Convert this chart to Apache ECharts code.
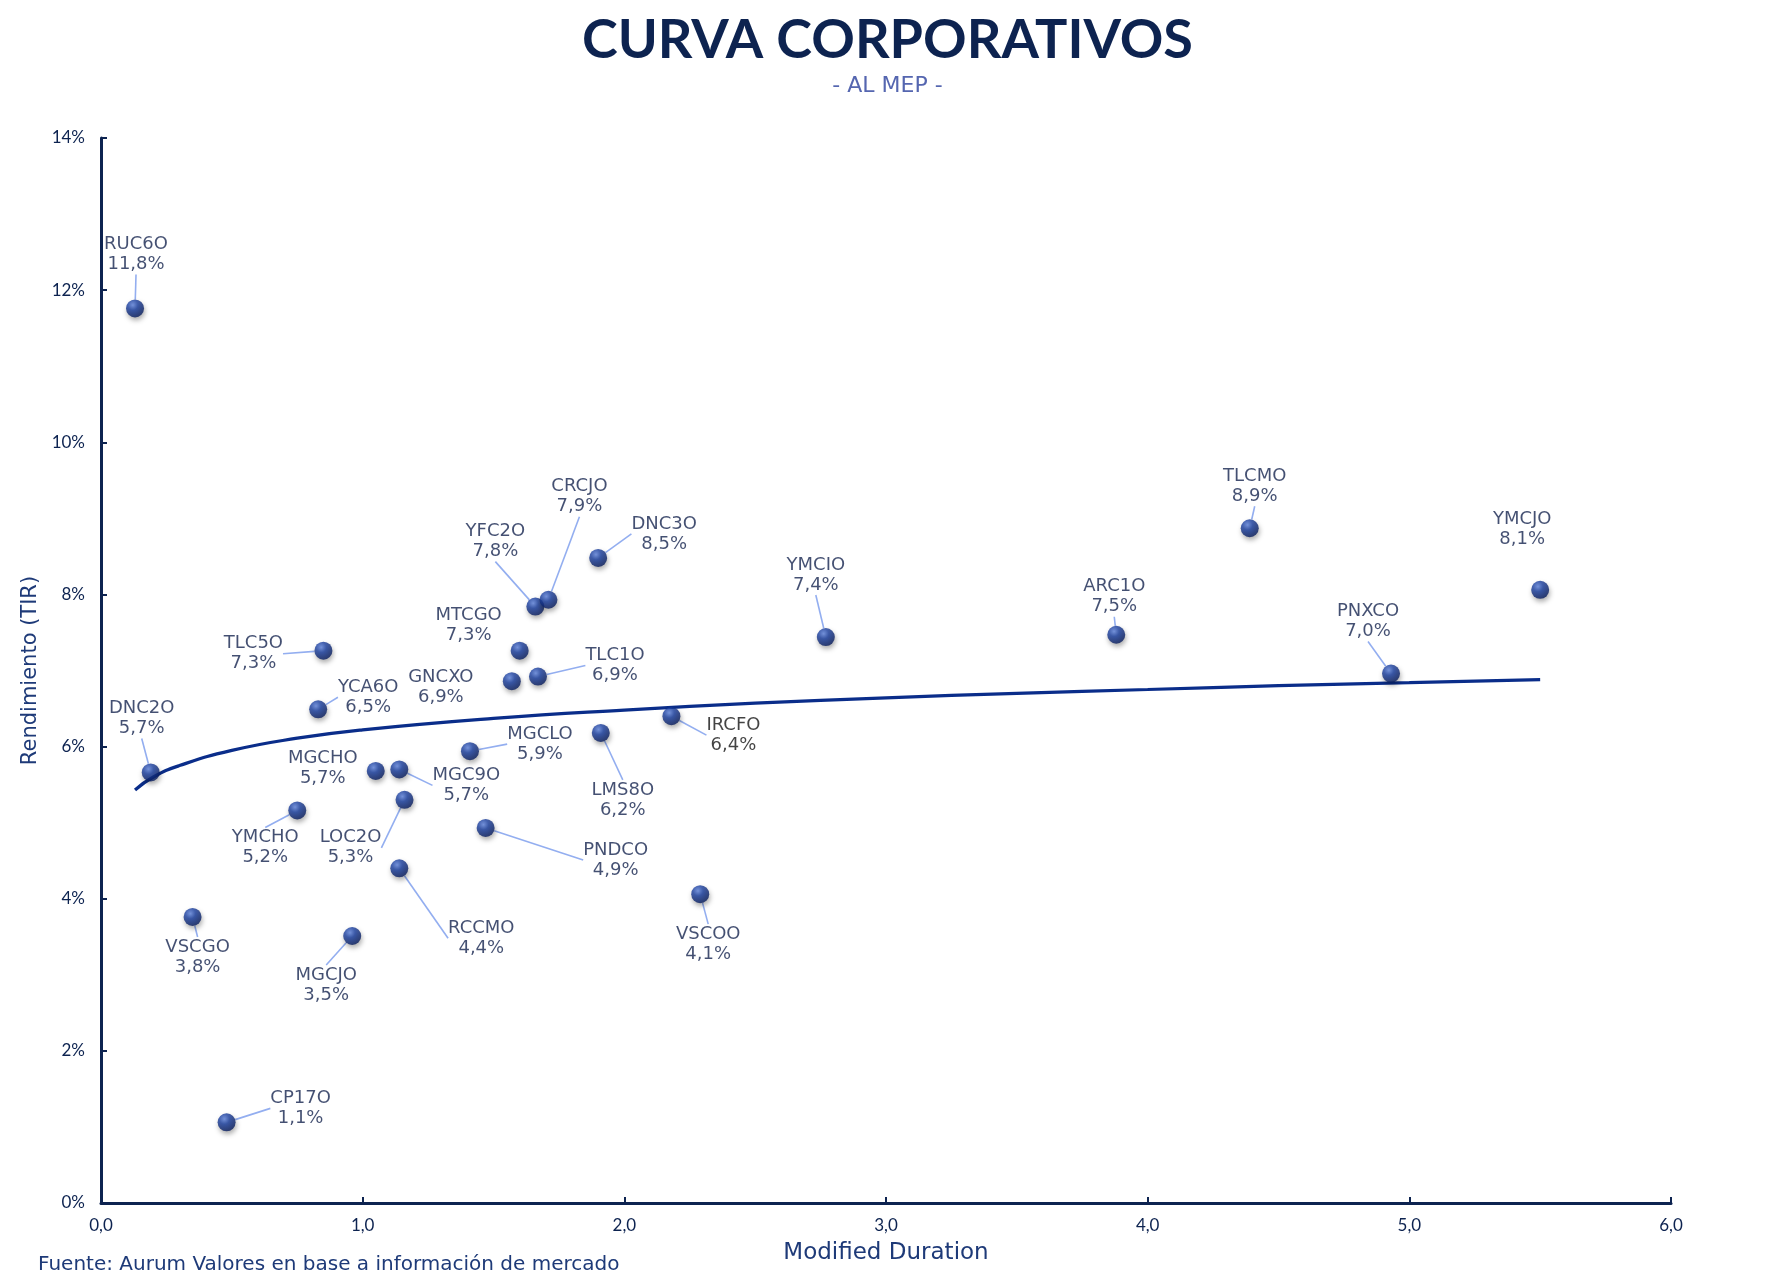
<!DOCTYPE html>
<html>
<head>
<meta charset="utf-8">
<script src="https://cdn.jsdelivr.net/npm/echarts@6/dist/echarts.min.js"></script>
<style>
html,body{margin:0;padding:0;background:#fff;}
#chart{width:1775px;height:1287px;}
</style>
</head>
<body>
<div id="chart"></div>
<script>
// ---- data ----
var bondNames = ['RUC6O','DNC2O','TLC5O','YCA6O','MGCHO','MGC9O','LOC2O','YMCHO','RCCMO','VSCGO','MGCJO','CP17O','MGCLO','PNDCO','GNCXO','MTCGO','TLC1O','YFC2O','CRCJO','DNC3O','LMS8O','IRCFO','VSCOO','YMCIO','ARC1O','TLCMO','PNXCO','YMCJO'];
var duration = [0.13,0.19,0.85,0.83,1.05,1.14,1.16,0.75,1.14,0.35,0.96,0.48,1.41,1.47,1.57,1.60,1.67,1.66,1.71,1.90,1.91,2.18,2.29,2.77,3.88,4.39,4.93,5.50];
var yieldPct = [11.76,5.66,7.26,6.49,5.68,5.70,5.30,5.16,4.40,3.76,3.51,1.06,5.94,4.93,6.86,7.26,6.92,7.84,7.93,8.48,6.18,6.40,4.06,7.44,7.47,8.87,6.96,8.06];
// trend curve
var trendX = [0.13,0.2,0.3,0.5,0.75,1.0,1.5,2.0,2.5,3.0,3.5,4.0,4.5,5.0,5.5];
var trendY = [5.43,5.60,5.75,5.95,6.11,6.22,6.37,6.48,6.57,6.64,6.70,6.75,6.80,6.84,6.88];
var xTicks = [0,1,2,3,4,5,6];
var yTicks = [0,2,4,6,8,10,12,14];

// ---- label layout (pixel offsets of label centre from point, leader mode) ----
var labelOffsets = [[1,-54],[-9,-54],[-70,3],[50,-12],[-53,-3],[67,16],[-54,48],[-32,37],[82,70],[5,40],[-26,49],[74,-14],[70,-7],[130,32],[-71,6],[-51,-25],[77,-11],[-40,-65],[31,-103],[66,-24],[22,67],[62,19],[8,50],[-10,-62],[-2,-38],[5,-42],[-23,-52],[-18,-61]];
var leaderMode = ['v','v','s','s','','s','s','v','s','v','v','s','s','s','','','s','v','v','s','v','s','v','v','v','v','v',''];

var navy = '#0d2350';
var labelFont = 'DejaVu Sans';
var scatterData = bondNames.map(function (n, i) {
  var d = { name: n, value: [duration[i], yieldPct[i]] };
  d.labelLine = { show: leaderMode[i] !== '' };
  if (n === 'IRCFO') d.label = { color: '#141414' };
  return d;
});
var trendData = trendX.map(function (x, i) { return [x, trendY[i]]; });

var chart = echarts.init(document.getElementById('chart'));
var option = {
  backgroundColor: '#ffffff',
  animation: false,
  title: [
    { text: 'CURVA CORPORATIVOS', left: 'center', top: 9,
      textStyle: { fontFamily: 'Lato', fontWeight: 'bold', fontSize: 54, color: navy } },
    { text: '- AL MEP -', left: 'center', top: 70,
      textStyle: { fontFamily: labelFont, fontWeight: 'normal', fontSize: 22, color: '#5566b0' } },
    { text: 'Fuente: Aurum Valores en base a información de mercado', left: 33, top: 1250,
      textStyle: { fontFamily: labelFont, fontWeight: 'normal', fontSize: 20, color: '#1e3a78' } }
  ],
  grid: { left: 101, right: 104, top: 138, bottom: 84 },
  xAxis: {
    type: 'value', min: 0, max: 6, interval: 1,
    name: 'Modified Duration', nameLocation: 'middle', nameGap: 39,
    nameTextStyle: { fontFamily: labelFont, fontSize: 23, color: '#1e3a78' },
    axisLine: { show: true, lineStyle: { color: navy, width: 3 } },
    axisTick: { show: true, inside: true, length: 6, lineStyle: { color: navy, width: 2 } },
    axisLabel: { fontFamily: 'Lato', fontSize: 17, color: navy, margin: 14,
      formatter: function (v) { return xTicks.indexOf(v) >= 0 ? v.toFixed(1).replace('.', ',') : ''; } },
    splitLine: { show: false }
  },
  yAxis: {
    type: 'value', min: 0, max: 14, interval: 2,
    name: 'Rendimiento (TIR)', nameLocation: 'middle', nameGap: 60,
    nameTextStyle: { fontFamily: labelFont, fontSize: 21, color: '#1e3a78' },
    axisLine: { show: true, lineStyle: { color: navy, width: 3 } },
    axisTick: { show: true, inside: true, length: 6, lineStyle: { color: navy, width: 2 } },
    axisLabel: { fontFamily: 'Lato', fontSize: 17, color: navy, margin: 16,
      formatter: function (v) { return yTicks.indexOf(v) >= 0 ? v + '%' : ''; } },
    splitLine: { show: false }
  },
  series: [
    {
      type: 'line', data: trendData, smooth: true, symbol: 'none', z: 2,
      lineStyle: { color: '#0a2d8a', width: 3.2 }, silent: true
    },
    {
      type: 'scatter', data: scatterData, symbolSize: 18, z: 3,
      itemStyle: {
        color: { type: 'radial', x: 0.38, y: 0.32, r: 0.7,
          colorStops: [{ offset: 0, color: '#5f84de' }, { offset: 0.4, color: '#1a3fa0' }, { offset: 1, color: '#081c5c' }] },
        shadowColor: 'rgba(0,0,0,0.4)', shadowBlur: 5, shadowOffsetX: 1, shadowOffsetY: 3
      },
      label: {
        show: true, position: 'inside', fontFamily: labelFont, fontSize: 18, lineHeight: 20,
        color: '#15244f', align: 'center', verticalAlign: 'middle',
        formatter: function (p) {
          return p.name + '\n' + p.value[1].toFixed(1).replace('.', ',') + '%';
        }
      },
      labelLine: { show: true, lineStyle: { color: '#93aef0', width: 1.6 } },
      labelLayout: function (p) {
        var i = p.dataIndex;
        var off = labelOffsets[i];
        var r = p.labelRect, e = p.rect;
        var px = e.x + e.width / 2, py = e.y + e.height / 2;
        var cx = px + off[0], cy = py + off[1];
        var dx = cx - (r.x + r.width / 2), dy = cy - (r.y + r.height / 2);
        var w = r.width, h = r.height;
        var res = { dx: dx, dy: dy };
        var m = leaderMode[i];
        if (m === 's') {
          var sgn = off[0] > 0 ? 1 : -1;
          var endX = cx - sgn * (w / 2 + 4);
          var elbX = endX - sgn * 8;
          res.labelLinePoints = [[px, py], [elbX, cy], [endX, cy]];
        } else if (m === 'v') {
          var sv = off[1] > 0 ? 1 : -1;
          var endY = cy - sv * (h / 2 + 4);
          res.labelLinePoints = [[px, py], [(px + cx) / 2, (py + endY) / 2], [cx, endY]];
        }
        return res;
      }
    }
  ]
};
chart.setOption(option);
</script>
</body>
</html>
